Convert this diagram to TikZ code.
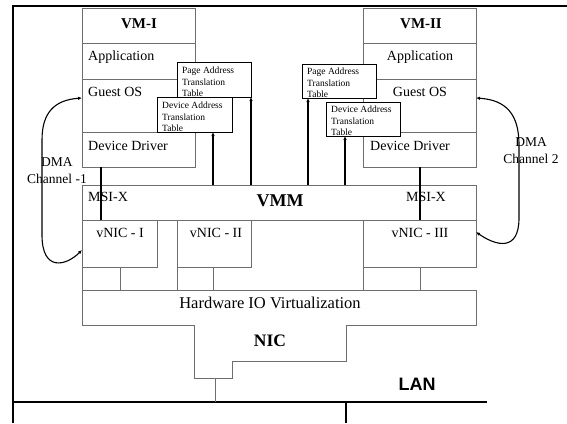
\documentclass[tikz,border=0pt]{standalone}
\usepackage{fontspec}
\setmainfont{Liberation Serif}
\newfontfamily\lanfont{Liberation Sans}
\usetikzlibrary{arrows.meta}
\definecolor{BoxGray}{HTML}{6E6E6E}

\begin{document}
\begin{tikzpicture}[x=1pt, y=-1pt,
    blk/.style={draw=BoxGray, line width=.8pt, inner sep=0pt, outer sep=0pt, anchor=north west},
    tab/.style={draw=black, fill=white, line width=.7pt, inner sep=0pt, outer sep=0pt, anchor=north west, minimum width=74pt},
    lbl/.style={inner sep=0pt, font=\fontsize{14}{16}\selectfont},
    ttl/.style={inner sep=0pt, font=\bfseries\fontsize{15}{17}\selectfont},
    tabtxt/.style={inner sep=0pt, anchor=north west, align=left, font=\fontsize{9.5}{11.5}\selectfont},
    dmatxt/.style={inner sep=0pt, align=center, font=\fontsize{13.5}{17}\selectfont},
    wire/.style={line width=1.2pt},
    arr/.style={line width=1.2pt, -{Latex[length=4pt,width=3.5pt]}},
    dma/.style={line width=1.1pt, {Latex[length=4pt,width=3.5pt]}-{Latex[length=4pt,width=3.5pt]}}
    ]
    \useasboundingbox (0,0) rectangle (567,423);
    % frame
    \draw[line width=2pt] (13,423) -- (13,6) -- (567,6);
    % the two VMs
    \foreach \n/\x in {1/82, 2/363}
        {
            \node[blk, minimum width=113pt, minimum height=35pt] (vm\n) at (\x,8) {};
            \node[blk, minimum width=113pt, minimum height=36pt] (app\n) at (\x,43) {};
            \node[blk, minimum width=113pt, minimum height=53pt] (os\n) at (\x,79) {};
            \node[blk, minimum width=113pt, minimum height=35pt] (dd\n) at (\x,132) {};
        }
    \node[ttl] (vm1txt) at (139,24) {VM-I};
    \node[ttl] (vm2txt) at (421,24) {VM-II};
    \node[lbl, anchor=west] (app1txt) at (88,57) {Application};
    \node[lbl] (app2txt) at (420,57) {Application};
    \node[lbl, anchor=west] (os1txt) at (88,92) {Guest OS};
    \node[lbl] (os2txt) at (420,92) {Guest OS};
    \node[lbl, anchor=west] (dd1txt) at (88,146) {Device Driver};
    \node[lbl, anchor=west] (dd2txt) at (370,146) {Device Driver};
    % address tables
    \node[tab, minimum height=35pt] (pt1) at (177,62) {};
    \node[tab, minimum height=35pt, minimum width=75pt] (dt1) at (157,97) {};
    \node[tab, minimum height=34pt] (pt2) at (302,64) {};
    \node[tab, minimum height=34pt] (dt2) at (326,102) {};
    \node[tabtxt] (pt1txt) at (182,67) {Page Address\\Translation\\Table};
    \node[tabtxt] (dt1txt) at (162,102) {Device Address\\Translation\\Table};
    \node[tabtxt] (pt2txt) at (307,68) {Page Address\\Translation\\Table};
    \node[tabtxt] (dt2txt) at (331,106) {Device Address\\Translation\\Table};
    % VMM and vNICs
    \node[blk, minimum width=394pt, minimum height=35pt] (vmm) at (82,185) {};
    \node[blk, minimum width=75pt, minimum height=47pt] (vn1) at (82,220) {};
    \node[blk, minimum width=74pt, minimum height=47pt] (vn2) at (177,220) {};
    \node[blk, minimum width=113pt, minimum height=47pt] (vn3) at (363,220) {};
    \node[blk, minimum width=38pt, minimum height=23pt] (port1) at (82,267) {};
    \node[blk, minimum width=36pt, minimum height=23pt] (port2) at (177,267) {};
    \node[blk, minimum width=57pt, minimum height=23pt] (port3) at (363,267) {};
    \node[inner sep=0pt, font=\bfseries\fontsize{18}{20}\selectfont] (vmmtxt) at (280,201) {VMM};
    \node[lbl, anchor=west] (msi1) at (88,197) {MSI-X};
    \node[lbl] (msi2) at (426,197) {MSI-X};
    \node[lbl] (vn1txt) at (120,233) {vNIC - I};
    \node[lbl] (vn2txt) at (216,233) {vNIC - II};
    \node[lbl] (vn3txt) at (420,233) {vNIC - III};
    % hardware IO virtualization + NIC
    \draw[BoxGray, line width=.8pt] (82,290) -- (476,290) -- (476,325) -- (346,325) -- (346,361)
        -- (232,361) -- (232,378) -- (194,378) -- (194,325) -- (82,325) -- cycle;
    \node[inner sep=0pt, font=\fontsize{16.5}{18}\selectfont] (hwtxt) at (270,303) {Hardware IO Virtualization};
    \node[inner sep=0pt, font=\bfseries\fontsize{17.5}{19}\selectfont] (nictxt) at (270,341) {NIC};
    \coordinate (nicport) at (215,378);
    % LAN
    \coordinate (lanl) at (13,402);
    \coordinate (lanr) at (487,402);
    \coordinate (lanb) at (346,423);
    \draw[line width=1.3pt] (lanl) -- (lanr);
    \draw[line width=1.3pt] (lanb) -- (lanb |- lanl);
    \draw[BoxGray, line width=1pt] (nicport) -- (nicport |- lanl);
    \node[inner sep=0pt, font=\lanfont\bfseries\fontsize{18}{20}\selectfont] (lantxt) at (417,384) {LAN};
    % device driver to vNIC
    \coordinate (c1) at (101,167);
    \coordinate (c2) at (420,167);
    \draw[wire] (c1) -- (c1 |- vn1.north);
    \draw[wire] (c2) -- (c2 |- vn3.north);
    % VMM to tables
    \coordinate (a1) at (213,185);
    \coordinate (a2) at (251,185);
    \coordinate (a3) at (308,185);
    \coordinate (a4) at (345,185);
    \foreach \c/\t in {a1/dt1, a2/pt1, a3/pt2, a4/dt2}
        {
            \draw[arr] (\c) -- (\c |- \t.south);
        }
    % DMA channels
    \coordinate (d1a) at (82,98);
    \coordinate (d1b) at (82,250);
    \coordinate (d2a) at (476,98);
    \coordinate (d2b) at (476,232);
    \draw[dma] (d1a) .. controls (55,100) and (42,112) .. (42,140) -- (42,235)
        .. controls (42,272) and (66,266) .. (d1b);
    \draw[dma] (d2a) .. controls (506,100) and (519,114) .. (519,145) -- (519,218)
        .. controls (519,252) and (496,246) .. (d2b);
    \node[dmatxt] (dma1txt) at (57,171) {DMA\\Channel -1};
    \node[dmatxt] (dma2txt) at (531,151) {DMA\\Channel 2};
\end{tikzpicture}
\end{document}
